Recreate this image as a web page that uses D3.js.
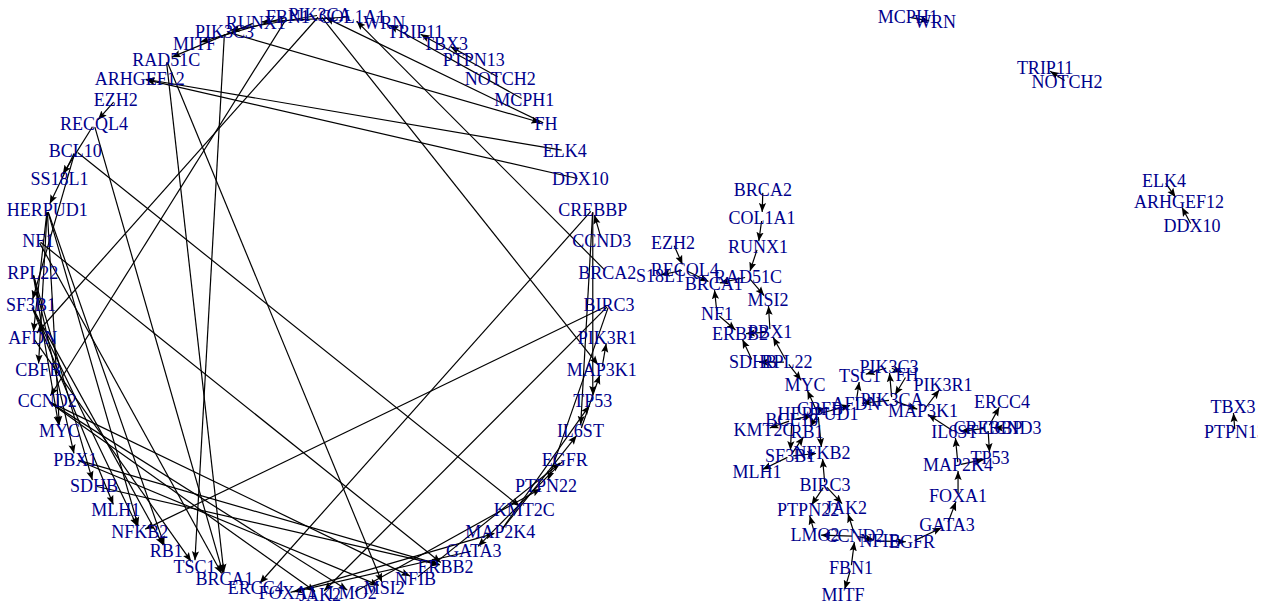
<!DOCTYPE html>
<html>
<head>
<meta charset="utf-8">
<script src="https://cdn.jsdelivr.net/npm/d3@7/dist/d3.min.js"></script>
<style>
  body { margin: 0; background: #fff; }
</style>
</head>
<body>
<svg id="chart"></svg>
<script>
// vertex names, in the order the circle layout places them (counter-clockwise from the right)
const nodes = ["BIRC3","BRCA2","CCND3","CREBBP","DDX10","ELK4","FH","MCPH1","NOTCH2","PTPN13",
  "TBX3","TRIP11","WRN","COL1A1","PIK3CA","FBN1","RUNX1","PIK3C3","MITF","RAD51C",
  "ARHGEF12","EZH2","RECQL4","BCL10","SS18L1","HERPUD1","NF1","RPL22","SF3B1","AFDN",
  "CBFB","CCND2","MYC","PBX1","SDHB","MLH1","NFKB2","RB1","TSC1","BRCA1",
  "ERCC4","FOXA1","JAK2","LMO2","MSI2","NFIB","ERBB2","GATA3","MAP2K4","KMT2C",
  "PTPN22","EGFR","IL6ST","TP53","MAP3K1","PIK3R1"];

// force layout coordinates (right plot), same order as nodes
const layoutX = [-0.414,-0.628,0.231,0.148,0.852,0.755,-0.131,-0.128,0.421,1.000,
  0.993,0.345,-0.034,-0.631,-0.183,-0.324,-0.645,-0.193,-0.352,-0.679,
  0.807,-0.938,-0.897,-0.528,-1.000,-0.438,-0.786,-0.545,-0.534,-0.307,
  -0.431,-0.310,-0.483,-0.603,-0.662,-0.648,-0.424,-0.476,-0.293,-0.797,
  0.197,0.045,-0.341,-0.448,-0.610,-0.224,-0.707,0.007,0.045,-0.624,
  -0.472,-0.114,0.034,0.155,-0.076,-0.007];
const layoutY = [-0.621,0.397,-0.424,-0.424,0.272,0.428,-0.241,0.993,0.769,-0.438,
  -0.352,0.817,0.976,0.300,-0.328,-0.907,0.200,-0.214,-1.000,0.097,
  0.355,0.214,0.121,-0.397,0.100,-0.376,-0.031,-0.197,-0.521,-0.341,
  -0.359,-0.797,-0.276,-0.093,-0.197,-0.576,-0.510,-0.438,-0.245,0.072,
  -0.334,-0.659,-0.700,-0.793,0.017,-0.814,-0.100,-0.759,-0.552,-0.431,
  -0.707,-0.817,-0.438,-0.528,-0.366,-0.276];

// directed edges: [from, to]
const edges = [
  ["BRCA2","COL1A1"],["COL1A1","RUNX1"],["RUNX1","RAD51C"],["EZH2","RECQL4"],
  ["RECQL4","SS18L1"],["RECQL4","BRCA1"],["RAD51C","BRCA1"],["RAD51C","MSI2"],
  ["NF1","BRCA1"],["NF1","ERBB2"],["PBX1","ERBB2"],["PBX1","MSI2"],
  ["SDHB","ERBB2"],["RPL22","SDHB"],["RPL22","PBX1"],["RPL22","MYC"],
  ["HERPUD1","MYC"],["HERPUD1","CBFB"],["HERPUD1","AFDN"],["PIK3CA","AFDN"],
  ["AFDN","TSC1"],["PIK3C3","TSC1"],["PIK3CA","PIK3C3"],["PIK3C3","FH"],
  ["FH","PIK3CA"],["PIK3CA","MAP3K1"],["MAP3K1","PIK3R1"],["IL6ST","MAP3K1"],
  ["CREBBP","IL6ST"],["CCND3","CREBBP"],["CREBBP","ERCC4"],["CREBBP","TP53"],
  ["MAP2K4","TP53"],["MAP2K4","IL6ST"],["FOXA1","MAP2K4"],["GATA3","FOXA1"],
  ["EGFR","GATA3"],["NFIB","EGFR"],["CCND2","NFIB"],["FBN1","CCND2"],
  ["FBN1","MITF"],["CCND2","LMO2"],["LMO2","PTPN22"],["BIRC3","PTPN22"],
  ["BIRC3","JAK2"],["BIRC3","NFKB2"],["CCND2","JAK2"],["HERPUD1","NFKB2"],
  ["BCL10","KMT2C"],["BCL10","SF3B1"],["BCL10","HERPUD1"],["SF3B1","MLH1"],
  ["SF3B1","RB1"],["HERPUD1","RB1"],["SF3B1","NFKB2"],
  ["MCPH1","WRN"],["NOTCH2","TRIP11"],["PTPN13","TBX3"],
  ["ELK4","ARHGEF12"],["DDX10","ARHGEF12"]
];

const w = 1272, h = 608;
const svg = d3.select("#chart").attr("width", w).attr("height", h);

const defs = svg.append("defs");
defs.append("marker")
  .attr("id", "arrow")
  .attr("viewBox", "0 -5 10 10")
  .attr("refX", 10)
  .attr("refY", 0)
  .attr("markerWidth", 9)
  .attr("markerHeight", 9)
  .attr("markerUnits", "userSpaceOnUse")
  .attr("orient", "auto")
  .append("path")
  .attr("d", "M0,-4L10,0L0,4L2,0Z")
  .attr("fill", "#000");

defs.append("clipPath").attr("id", "clipRight")
  .append("rect").attr("x", 636).attr("y", 0).attr("width", 622).attr("height", h);

const yScale = d3.scaleLinear().domain([-1, 1]).range([595, 15]);
const xLeft = d3.scaleLinear().domain([-1, 1]).range([31, 609]);
const xRight = d3.scaleLinear().domain([-1, 1]).range([655, 1235]);
const angle = d3.scaleLinear().domain([0, nodes.length]).range([0, 2 * Math.PI]);

// left: circle layout
const circlePos = new Map(nodes.map((n, i) => [n, [xLeft(Math.cos(angle(i))), yScale(Math.sin(angle(i)))]]));
// right: force layout
const forcePos = new Map(nodes.map((n, i) => [n, [xRight(layoutX[i]), yScale(layoutY[i])]]));

function drawNet(g, pos) {
  const gap = 6;
  g.selectAll("line")
    .data(edges)
    .enter()
    .append("line")
    .each(function(d) {
      const s = pos.get(d[0]), t = pos.get(d[1]);
      const dx = t[0] - s[0], dy = t[1] - s[1];
      const len = Math.sqrt(dx * dx + dy * dy) || 1;
      d3.select(this)
        .attr("x1", s[0] + dx / len * 3)
        .attr("y1", s[1] + dy / len * 3)
        .attr("x2", t[0] - dx / len * gap)
        .attr("y2", t[1] - dy / len * gap);
    })
    .attr("stroke", "#000")
    .attr("stroke-width", 1.2)
    .attr("marker-end", "url(#arrow)");

  g.selectAll("text")
    .data(nodes)
    .enter()
    .append("text")
    .attr("x", (d) => pos.get(d)[0])
    .attr("y", (d) => pos.get(d)[1])
    .attr("dy", "0.35em")
    .attr("text-anchor", "middle")
    .attr("font-family", "'Liberation Serif', 'DejaVu Serif', serif")
    .attr("font-size", 18)
    .attr("fill", "#00008B")
    .text((d) => d);
}

drawNet(svg.append("g").attr("id", "circle-plot"), circlePos);
drawNet(svg.append("g").attr("id", "force-plot").attr("clip-path", "url(#clipRight)"), forcePos);
</script>
</body>
</html>
